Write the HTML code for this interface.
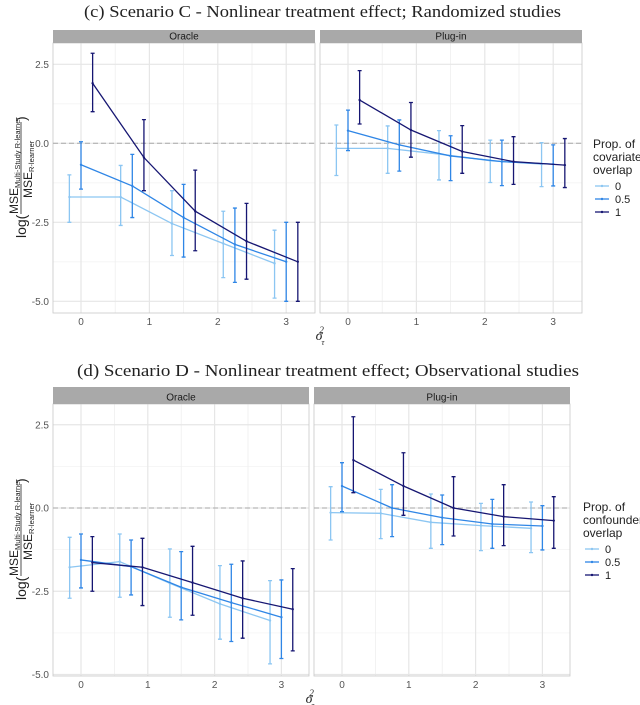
<!DOCTYPE html>
<html><head><meta charset="utf-8"><style>
html,body{margin:0;padding:0;background:#fff;}
svg{display:block;font-family:"Liberation Sans",sans-serif;}
</style></head><body>
<svg id="chart" width="640" height="705" viewBox="0 0 640 705" xmlns="http://www.w3.org/2000/svg">
<text x="84" y="17" textLength="477" lengthAdjust="spacingAndGlyphs" font-family="Liberation Serif, serif" font-size="17" fill="#222">(c) Scenario C - Nonlinear treatment effect; Randomized studies</text>
<text x="77" y="376" textLength="502" lengthAdjust="spacingAndGlyphs" font-family="Liberation Serif, serif" font-size="17" fill="#222">(d) Scenario D - Nonlinear treatment effect; Observational studies</text>
<g id="plots"></g>
</svg>
<script>
const xVals = [0, 0.75, 1.5, 2.25, 3];
const groups = ["0", "0.5", "1"];
const colors = ["#8cc6f2", "#2f86e6", "#161672"];
const panelNames = ["Oracle", "Plug-in"];
const yTicks = [2.5, 0, -2.5, -5];
const yTickLabels = ["2.5", "0.0", "-2.5", "-5.0"];
const xTicks = [0, 1, 2, 3];
// Scenario C
const cOracleMean = [[-1.7,-1.7,-2.54,-3.17,-3.8],[-0.68,-1.35,-2.35,-3.2,-3.75],[1.9,-0.45,-2.15,-3.1,-3.75]];
const cOracleHi = [[-1.0,-0.7,-1.5,-2.15,-2.75],[0.05,-0.35,-1.3,-2.05,-2.5],[2.85,0.75,-0.85,-1.9,-2.5]];
const cOracleLo = [[-2.5,-2.6,-3.55,-4.25,-4.9],[-1.45,-2.35,-3.6,-4.4,-5.0],[1.0,-1.5,-3.4,-4.3,-5.0]];
const cPlugMean = [[-0.16,-0.16,-0.34,-0.55,-0.66],[0.4,-0.05,-0.4,-0.58,-0.66],[1.37,0.42,-0.26,-0.58,-0.69]];
const cPlugHi = [[0.58,0.55,0.4,0.1,0.02],[1.05,0.74,0.24,0.1,-0.05],[2.3,1.29,0.56,0.21,0.15]];
const cPlugLo = [[-1.02,-0.95,-1.16,-1.24,-1.37],[-0.23,-0.88,-1.18,-1.34,-1.35],[0.61,-0.44,-0.95,-1.3,-1.4]];
// Scenario D
const dOracleMean = [[-1.78,-1.61,-2.26,-2.88,-3.38],[-1.56,-1.76,-2.38,-2.84,-3.28],[-1.64,-1.78,-2.24,-2.71,-3.04]];
const dOracleHi = [[-0.88,-0.78,-1.23,-1.73,-2.18],[-0.78,-0.96,-1.31,-1.69,-2.16],[-0.86,-0.91,-1.15,-1.59,-1.82]];
const dOracleLo = [[-2.71,-2.68,-3.28,-3.94,-4.68],[-2.4,-2.61,-3.36,-4.01,-4.52],[-2.5,-2.93,-3.22,-3.91,-4.29]];
const dPlugMean = [[-0.14,-0.16,-0.43,-0.53,-0.61],[0.66,0,-0.29,-0.48,-0.54],[1.44,0.66,0,-0.26,-0.38]];
const dPlugHi = [[0.64,0.56,0.42,0.14,0.18],[1.36,0.7,0.39,0.26,0.07],[2.74,1.66,0.94,0.7,0.34]];
const dPlugLo = [[-0.96,-0.92,-1.21,-1.28,-1.34],[-0.11,-0.86,-1.1,-1.21,-1.26],[0.46,-0.22,-0.84,-1.13,-1.21]];

const NS="http://www.w3.org/2000/svg";
const root=document.getElementById('plots');
function mk(tag,attrs,parent){const e=document.createElementNS(NS,tag);for(const k in attrs)e.setAttribute(k,attrs[k]);(parent||root).appendChild(e);return e;}

function drawFigure(cfg){
  const g=mk('g',{});
  
  
  const yS=v=>cfg.y0-v*cfg.yu;
  cfg.panels.forEach((p,pi)=>{
    const xS=v=>p.x0+v*cfg.xu;
    const pg=mk('g',{},g);
    
    
    mk('rect',{x:p.l,y:cfg.top,width:p.r-p.l,height:cfg.bot-cfg.top,fill:'#fff'},pg);
    [-3.75,-1.25,1.25].forEach(v=>mk('line',{x1:p.l,x2:p.r,y1:yS(v),y2:yS(v),stroke:'#f4f4f4','stroke-width':0.8},pg));
    [0.5,1.5,2.5].forEach(v=>mk('line',{x1:xS(v),x2:xS(v),y1:cfg.top,y2:cfg.bot,stroke:'#eeeeee','stroke-width':0.8},pg));
    yTicks.forEach(v=>mk('line',{x1:p.l,x2:p.r,y1:yS(v),y2:yS(v),stroke:'#e6e6e6','stroke-width':1.2},pg));
    xTicks.forEach((v,i)=>{
      mk('line',{x1:xS(v),x2:xS(v),y1:cfg.top,y2:cfg.bot,stroke:'#e6e6e6','stroke-width':1.2},pg);
      const t=mk('text',{x:xS(v),y:cfg.bot+12,'text-anchor':'middle','font-size':10,fill:'#555'},pg);
      t.textContent=String(v);
      
      
    });
    mk('rect',{x:p.l,y:cfg.top,width:p.r-p.l,height:cfg.bot-cfg.top,fill:'none',stroke:'#c8c8c8','stroke-width':0.8},pg);
    mk('line',{x1:p.l,x2:p.r,y1:yS(0),y2:yS(0),stroke:'#aaaaaa','stroke-width':1,'stroke-dasharray':'5,3'},pg);
    const st=mk('rect',{x:p.l,y:cfg.stripTop,width:p.r-p.l,height:cfg.top-cfg.stripTop,fill:'#a9a9a9'},pg);
    
    
    const stt=mk('text',{x:(p.l+p.r)/2,y:cfg.top-3.5,'text-anchor':'middle','font-size':10,fill:'#1a1a1a'},pg);
    stt.textContent=panelNames[pi];
    const dodge=[-0.17,0,0.17];
    groups.forEach((gname,gi)=>{
      const sg=mk('g',{},pg);
      
      
      const pts=xVals.map((xv,i)=>[xS(xv+dodge[gi]),yS(p.mean[gi][i])]);
      mk('polyline',{points:pts.map(q=>q.join(',')).join(' '),fill:'none',stroke:colors[gi],'stroke-width':1.3},sg);
      xVals.forEach((xv,i)=>{
        const x=xS(xv+dodge[gi]),yh=yS(p.hi[gi][i]),yl=yS(p.lo[gi][i]);
        const eb=mk('path',{d:`M${x},${yh}V${yl}M${x-2},${yh}H${x+2}M${x-2},${yl}H${x+2}`,stroke:colors[gi],'stroke-width':1.3,fill:'none'},sg);
        
        
        mk('circle',{cx:x,cy:yS(p.mean[gi][i]),r:1.2,fill:colors[gi]},sg);
      });
    });
  });
  yTicks.forEach((v,i)=>{
    const t=mk('text',{x:cfg.panels[0].l-4,y:yS(v)+3.5,'text-anchor':'end','font-size':10,fill:'#555'},g);
    t.textContent=yTickLabels[i];
    
    
  });
  const yc=(cfg.top+cfg.bot)/2;
  const yt=mk('g',{transform:`translate(21,${yc}) rotate(-90)`},g);
  
  
  let t=mk('text',{x:-60,y:5,'font-size':14,fill:'#222'},yt);t.textContent='log(';
  t=mk('text',{x:-36,y:-3,'font-size':12,fill:'#222'},yt);t.innerHTML='MSE<tspan font-size="7.5" dy="2">Multi-Study R-learner</tspan>';
  mk('line',{x1:-36,x2:56,y1:0,y2:0,stroke:'#222','stroke-width':0.8},yt);
  t=mk('text',{x:-20,y:11,'font-size':12,fill:'#222'},yt);t.innerHTML='MSE<tspan font-size="7.5" dy="2">R-learner</tspan>';
  t=mk('text',{x:57,y:5,'font-size':14,fill:'#222'},yt);t.textContent=')';
  const xt=mk('text',{x:cfg.xTitleX,y:cfg.bot+27,'text-anchor':'middle','font-family':'Liberation Serif, serif','font-size':14,'font-style':'italic',fill:'#222'},g);
  xt.innerHTML='σ<tspan font-size="8" dy="5" dx="-1">τ</tspan><tspan font-size="9" dy="-12" dx="-5">2</tspan>';
  
  
  const lg=mk('g',{},g);
  
  
  cfg.legendTitle.forEach((s,i)=>{const tt=mk('text',{x:cfg.lx,y:cfg.ly+i*13,'font-size':12,fill:'#222'},lg);tt.textContent=s;});
  groups.forEach((gname,gi)=>{
    const yy=cfg.ly+42+gi*13;
    const le=mk('g',{},lg);
    
    
    mk('line',{x1:cfg.lx+2,x2:cfg.lx+16,y1:yy-4,y2:yy-4,stroke:colors[gi],'stroke-width':1.3},le);
    mk('circle',{cx:cfg.lx+9,cy:yy-4,r:1.2,fill:colors[gi]},le);
    const tt=mk('text',{x:cfg.lx+22,y:yy,'font-size':11,fill:'#222'},le);tt.textContent=gname;
  });
}
drawFigure({name:'scenario-c-chart',stripTop:30,top:43,bot:313,y0:143.3,yu:31.6,xu:68.4,xTitleX:320,
  panels:[{l:53,r:315,x0:81,mean:cOracleMean,hi:cOracleHi,lo:cOracleLo},{l:320,r:582,x0:348,mean:cPlugMean,hi:cPlugHi,lo:cPlugLo}],
  legendTitle:['Prop. of','covariate','overlap'],lx:593,ly:148});
drawFigure({name:'scenario-d-chart',stripTop:387,top:404,bot:676,y0:508,yu:33.3,xu:66.8,xTitleX:310,
  panels:[{l:53,r:309,x0:81,mean:dOracleMean,hi:dOracleHi,lo:dOracleLo},{l:314,r:570,x0:342,mean:dPlugMean,hi:dPlugHi,lo:dPlugLo}],
  legendTitle:['Prop. of','confounder','overlap'],lx:583,ly:511});
</script>
</body></html>
